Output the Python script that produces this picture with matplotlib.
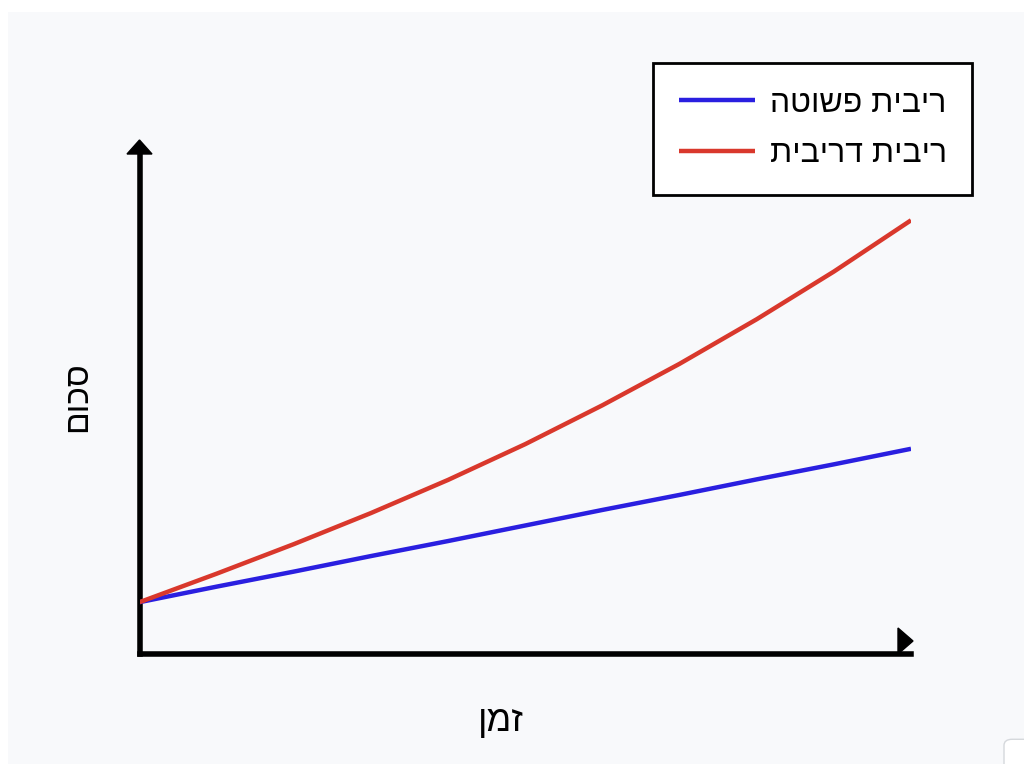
import matplotlib
matplotlib.use("Agg")
import matplotlib.pyplot as plt
from matplotlib.patches import Polygon, Rectangle, FancyBboxPatch

plt.rcParams["font.family"] = ["Liberation Sans", "DejaVu Sans"]

# ---------------------------------------------------------------- data
years = [0, 1, 2, 3, 4, 5, 6, 7, 8, 9, 10]
simple = [100, 130, 159, 189, 218, 248, 278, 307, 337, 366, 396]
compound = [100, 155, 212, 272, 336, 405, 480, 560, 646, 738, 837]

label_simple = "ריבית פשוטה"
label_compound = "ריבית דריבית"
xlabel = "זמן"
ylabel = "סכום"


def rtl(s):
    # matplotlib lays text out left-to-right, so flip Hebrew by hand
    return s[::-1]


# ---------------------------------------------------------------- figure
W, H = 1024, 764
fig = plt.figure(figsize=(W / 100, H / 100), dpi=100, facecolor="white")
fig.patches.append(Rectangle((8 / W, 0), 1, 1 - 12 / H, transform=fig.transFigure,
                             facecolor="#f8f9fb", edgecolor="none", zorder=-10))

ax = fig.add_axes([139.5 / W, 1 - 654 / H, 771.5 / W, 513 / H])
ax.set_facecolor("none")
ax.plot(years, simple, color="#2a1fe0", lw=3.2, label=rtl(label_simple),
        solid_capstyle="butt", solid_joinstyle="round", zorder=3)
ax.plot(years, compound, color="#d9382c", lw=3.2, label=rtl(label_compound),
        solid_capstyle="butt", solid_joinstyle="round", zorder=3)
ax.set_xlim(0, 10)
ax.set_ylim(0, 990)
ax.set_xticks([])
ax.set_yticks([])
for s in ("top", "right"):
    ax.spines[s].set_visible(False)
for s in ("left", "bottom"):
    ax.spines[s].set_linewidth(4)
    ax.spines[s].set_color("black")
    ax.spines[s].set_capstyle("projecting")
ax.spines["left"].set_bounds(0, 975)

# arrow heads (axes fractions; axes is 771.5 x 513 px)
aw, ah = 771.5, 513
ax.add_patch(Polygon([(-12.5 / aw, 1 - 13 / ah), (12.5 / aw, 1 - 13 / ah), (0, 1 + 1 / ah)],
                     closed=True, transform=ax.transAxes, color="black", clip_on=False))
ax.add_patch(Polygon([(1 - 13 / aw, 0), (1 - 13 / aw, 26 / ah), (1 + 2 / aw, 13 / ah)],
                     closed=True, transform=ax.transAxes, color="black", clip_on=False))

leg = ax.legend(loc="upper left", bbox_to_anchor=((653 - 139.5) / aw, 1 + (141 - 63) / ah),
                frameon=True, fancybox=False, fontsize=23, handlelength=2.4,
                handletextpad=0.45, labelspacing=0.65, borderpad=0.8,
                borderaxespad=0)
leg.get_frame().set_edgecolor("black")
leg.get_frame().set_linewidth(2)
leg.get_frame().set_facecolor("white")
leg.get_frame().set_alpha(1)

fig.text(501 / W, 1 - 722 / H, rtl(xlabel), fontsize=26, ha="center", va="center")
fig.text(78 / W, 1 - 397 / H, rtl(ylabel), fontsize=24, ha="center", va="center",
         rotation=90)

# little page widget in the corner
fig.patches.append(FancyBboxPatch((1004 / W, -0.02), 0.05, 40 / H,
                                  boxstyle="round,pad=0,rounding_size=0.008",
                                  transform=fig.transFigure, facecolor="white",
                                  edgecolor="#d5d8dc", lw=1, zorder=5))

fig.savefig("out.png", dpi=100, facecolor=fig.get_facecolor())
